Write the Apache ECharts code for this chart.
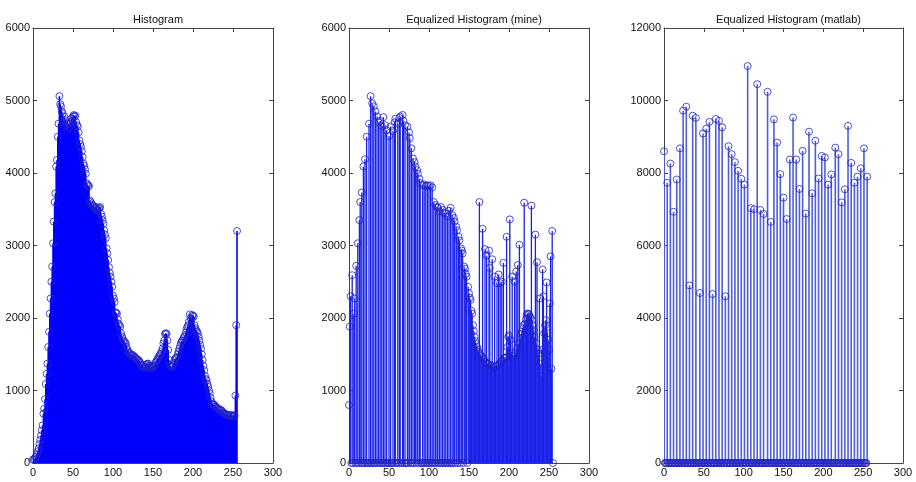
<!DOCTYPE html>
<html><head><meta charset="utf-8">
<script src="https://cdn.jsdelivr.net/npm/echarts@6/dist/echarts.min.js"></script>
<style>html,body{margin:0;padding:0;background:#fff}#c{width:916px;height:482px}</style>
</head><body><div id="c"></div>
<script>
// Panel titles
const titles = ['Histogram', 'Equalized Histogram (mine)', 'Equalized Histogram (matlab)'];
// x-axis ticks (intensity)
const xTicks = [0, 50, 100, 150, 200, 250, 300];
// Panel 1: original histogram, bins 0..255
const hist1 = [
50,40,60,80,90,120,160,200,260,320,380,450,520,680,750,880,
1090,1230,1370,1600,1810,2060,2270,2500,2710,3030,3330,3600,3720,4090,4180,4500,
4680,5060,4950,4920,4850,4820,4700,4780,4730,4650,4700,4600,4680,4620,4680,4700,
4750,4720,4780,4800,4780,4790,4700,4660,4640,4560,4450,4400,4360,4300,4220,4130,
4100,4050,3990,3860,3840,3820,3820,3620,3600,3580,3560,3550,3540,3500,3520,3530,
3490,3480,3510,3520,3530,3440,3400,3350,3300,3210,3150,3100,2960,2890,2800,2700,
2620,2570,2500,2430,2310,2270,2220,2080,2070,2060,1980,1920,1900,1880,1790,1750,
1720,1690,1680,1660,1650,1600,1560,1540,1520,1510,1500,1490,1480,1490,1470,1460,
1450,1440,1430,1420,1420,1400,1380,1350,1340,1350,1320,1310,1330,1350,1360,1370,
1370,1340,1320,1300,1330,1320,1340,1330,1350,1380,1400,1420,1440,1460,1480,1500,
1510,1540,1580,1650,1690,1780,1790,1780,1690,1560,1420,1350,1330,1320,1330,1350,
1380,1420,1440,1450,1460,1500,1540,1580,1620,1660,1680,1690,1720,1740,1760,1800,
1850,1880,1900,1950,2050,2000,1980,2040,2030,2020,1900,1860,1830,1810,1790,1740,
1690,1630,1580,1500,1420,1340,1280,1200,1160,1140,1090,1050,1000,960,900,850,
820,810,800,800,780,770,760,750,740,740,730,730,720,700,690,680,
680,670,670,660,660,650,660,650,660,640,650,660,650,930,1900,3200
];
// Panel 2: equalized histogram (mine), bins 0..255
const hist2 = [
800,1880,2300,0,2590,0,2060,2270,0,2720,0,3030,0,3350,3600,0,
3730,0,4090,0,4190,0,4500,0,0,4680,0,5060,0,4960,0,4920,
0,4850,0,4780,0,4700,0,4720,0,4650,0,4770,0,4660,0,4590,
0,0,4510,0,4640,0,0,4580,0,4700,4750,0,0,4680,0,4760,
4780,0,0,4800,4720,0,4660,0,0,4640,0,4560,4480,0,4340,0,
4200,0,4150,4090,0,4040,3990,0,3920,3860,0,0,3830,0,3840,0,
3820,0,3830,0,3820,0,3830,0,3800,0,3600,0,3560,0,3530,3520,
0,3470,0,3530,0,3490,0,3450,0,3440,0,3400,0,3480,0,3520,
0,3420,0,3380,3330,0,3260,3210,0,3120,3070,0,2960,2930,2890,0,
2710,2680,2610,2570,0,2430,2340,2280,2250,2100,2060,1900,1820,1740,1680,1640,
1600,1560,1530,3600,1500,1480,1460,3230,1440,1420,2950,1390,2860,1370,1360,2930,
2690,1350,1340,2810,1320,1300,2570,1330,1340,2480,1350,2600,1370,2480,1400,2500,
1420,2760,1440,1450,1460,3120,1600,1740,1760,3360,1700,1510,2570,1480,1460,2500,
1520,2640,1580,2730,1650,3010,1720,1780,1810,1860,1900,3590,1920,1980,2040,2060,
2060,2050,2020,2000,3550,1970,1900,1830,1740,3150,1650,2770,1560,1510,2270,1370,
1200,1560,2670,2300,1790,1900,1970,2490,1790,1700,1560,2200,2850,1300,3200,0
];
// Panel 3: matlab histeq output levels (64) and their counts; other bins are empty
const levels3 = [0,4,8,12,16,20,24,28,32,36,40,45,49,53,57,61,65,69,73,77,81,85,89,93,97,101,105,109,113,117,121,125,
130,134,138,142,146,150,154,158,162,166,170,174,178,182,186,190,194,198,202,206,210,215,219,223,227,231,235,239,243,247,251,255];
const counts3 = [8600,7730,8260,6930,7820,8680,9720,9830,4900,9580,9520,4690,9090,9220,9410,4660,9490,9440,9260,4600,8740,8520,8300,8060,7840,7680,10950,7030,7000,10450,6980,6870,
10240,6650,9480,8840,7970,7320,6730,8370,9530,8370,7560,8610,6880,9140,7440,8890,7850,8470,8430,7680,7960,8700,8520,7190,7550,9300,8280,7730,7900,8130,8680,7900];
const yMax = [6000, 6000, 12000];
const yStep = [1000, 1000, 2000];

const hist3 = new Array(256).fill(0);
levels3.forEach((l, i) => { hist3[l] = counts3[i]; });
const bins = Array.from({length: 256}, (_, i) => i);
const histAll = [hist1, hist2, hist3];

const FONT = 'Liberation Sans, Arial, sans-serif';
const gridPos = [
  {left: 33, top: 28, width: 240, height: 435},
  {left: 349, top: 28, width: 240, height: 435},
  {left: 664, top: 28, width: 239, height: 435}
];
const stemColor = ['#0000ff', '#1a22e8', '#4e5edc'];
const stemWidth = [1.6, 1.3, 1.6];
const markColor = ['#2020c8', '#2020c8', '#2424c0'];

const option = {
  animation: false,
  backgroundColor: '#ffffff',
  title: titles.map((t, i) => ({
    text: t, left: gridPos[i].left + gridPos[i].width / 2, top: 9, textAlign: 'center',
    textStyle: {fontFamily: FONT, fontSize: 11, fontWeight: 'normal', color: '#111'}
  })),
  grid: gridPos.map(g => Object.assign({show: false}, g)),
  xAxis: [], yAxis: [], series: []
};
const axLine = {show: true, onZero: false, lineStyle: {color: '#444', width: 1}};
const axTick = {show: true, inside: true, length: 4, lineStyle: {color: '#444'}};
const fmt = v => String(v);
for (let i = 0; i < 3; i++) {
  option.xAxis.push({type: 'value', gridIndex: i, position: 'bottom', min: xTicks[0], max: xTicks[xTicks.length - 1], interval: 50,
    axisLine: axLine, axisTick: axTick, splitLine: {show: false},
    axisLabel: {fontFamily: FONT, fontSize: 11, color: '#111', margin: 4, formatter: fmt}});
  option.xAxis.push({type: 'value', gridIndex: i, position: 'top', min: 0, max: 300, interval: 50,
    axisLine: axLine, axisTick: axTick, splitLine: {show: false}, axisLabel: {show: false}});
  option.yAxis.push({type: 'value', gridIndex: i, position: 'left', min: 0, max: yMax[i], interval: yStep[i],
    axisLine: axLine, axisTick: axTick, splitLine: {show: false},
    axisLabel: {fontFamily: FONT, fontSize: 11, color: '#111', margin: 3, formatter: fmt}});
  option.yAxis.push({type: 'value', gridIndex: i, position: 'right', min: 0, max: yMax[i], interval: yStep[i],
    axisLine: axLine, axisTick: axTick, splitLine: {show: false}, axisLabel: {show: false}});
  const data = bins.map(b => [b, histAll[i][b]]);
  option.series.push({
    type: 'custom', xAxisIndex: 2 * i, yAxisIndex: 2 * i, data: data, clip: true,
    renderItem: (function (col, w) {
      return function (params, api) {
        const p0 = api.coord([api.value(0), 0]);
        const p1 = api.coord([api.value(0), api.value(1)]);
        return {type: 'line', shape: {x1: p0[0], y1: p0[1], x2: p1[0], y2: p1[1]},
          style: {stroke: col, lineWidth: w}};
      };
    })(stemColor[i], stemWidth[i])
  });
  option.series.push({
    type: 'scatter', xAxisIndex: 2 * i, yAxisIndex: 2 * i, data: data, clip: false,
    symbol: 'circle', symbolSize: 7,
    itemStyle: {color: 'rgba(0,0,0,0)', borderColor: markColor[i], borderWidth: 1},
    emphasis: {disabled: true}
  });
}
echarts.init(document.getElementById('c')).setOption(option);
</script></body></html>
